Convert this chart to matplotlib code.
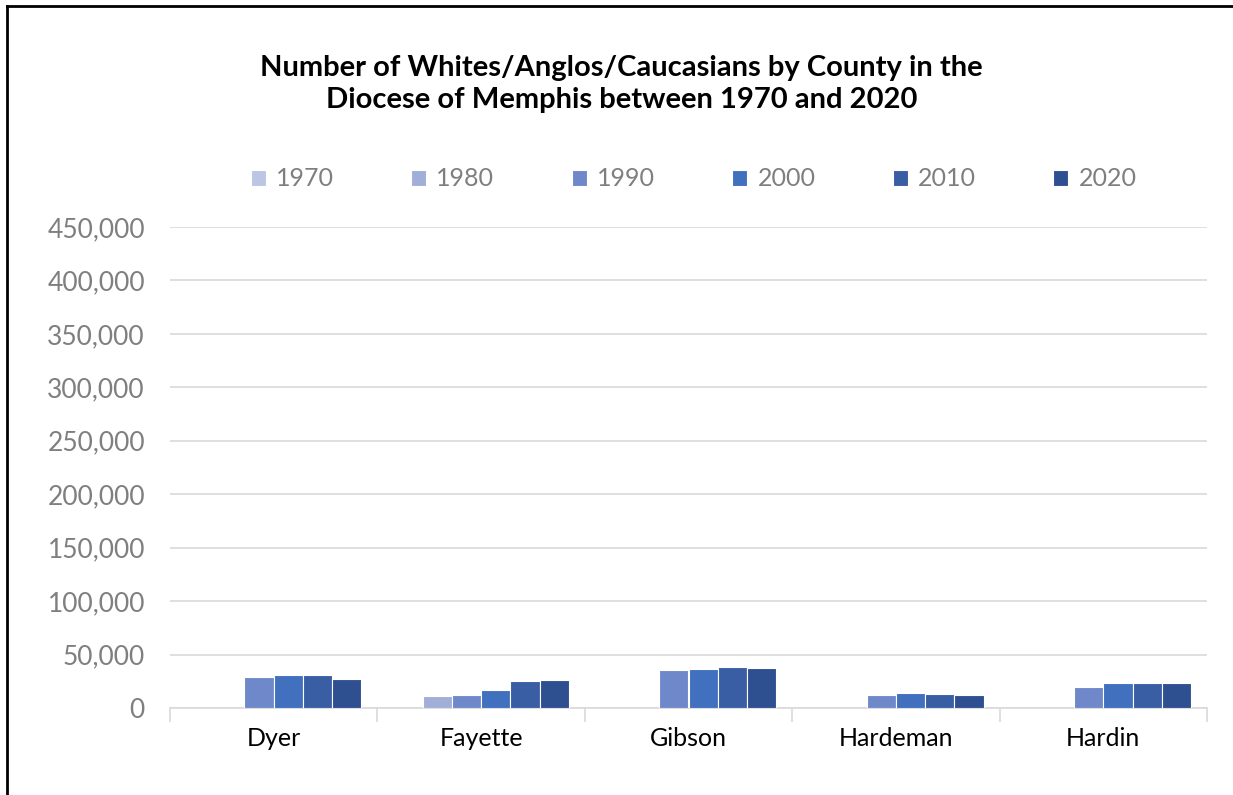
import numpy as np
import matplotlib.pyplot as plt
from matplotlib.lines import Line2D

# Datos (nan = sin barra)
condados = ['Dyer', 'Fayette', 'Gibson', 'Hardeman', 'Hardin']
anios = ['1970', '1980', '1990', '2000', '2010', '2020']
v1970 = [np.nan, np.nan, np.nan, np.nan, np.nan]
v1980 = [np.nan, 10800, np.nan, np.nan, np.nan]
v1990 = [29400, 12400, 35800, 12400, 20100]
v2000 = [31000, 16500, 36700, 14300, 23000]
v2010 = [30700, 25200, 38000, 13400, 23000]
v2020 = [27400, 26500, 37000, 12000, 23100]
series = [v1970, v1980, v1990, v2000, v2010, v2020]
colores = ['#BCC6E4', '#A0AED8', '#6F88CA', '#4170BE', '#3A5EA4', '#2F5090']

plt.rcParams['font.family'] = ['Lato', 'DejaVu Sans']

fig = plt.figure(figsize=(12.33, 7.95), dpi=100)
ax = fig.add_axes([170 / 1233, 87 / 795, 1037 / 1233, 481 / 795])

x = np.arange(len(condados))
ancho = 0.141
for i, (serie, color, anio) in enumerate(zip(series, colores, anios)):
    ax.bar(x + (i - 2.5) * ancho, serie, ancho, color=color, edgecolor='white',
           linewidth=0.8, label=anio, zorder=3)

ax.set_xlim(-0.5, len(condados) - 0.5)
ax.set_ylim(0, 450000)
ax.set_yticks(np.arange(0, 450001, 50000))
ax.set_yticklabels([f'{v:,}' for v in range(0, 450001, 50000)])
ax.grid(axis='y', color='#D9D9D9', linewidth=1.2, zorder=0)

ax.set_xticks(x)
ax.set_xticklabels(condados)
ax.set_xticks(np.arange(-0.5, len(condados), 1), minor=True)
ax.tick_params(axis='x', which='major', length=0, pad=14, labelsize=18, labelcolor='black')
ax.tick_params(axis='x', which='minor', length=10, color='#D9D9D9', width=1.2)
ax.tick_params(axis='y', length=0, pad=18, labelsize=19, labelcolor='#7F7F7F')

for lado in ['top', 'right', 'left']:
    ax.spines[lado].set_visible(False)
ax.spines['bottom'].set_color('#D9D9D9')
ax.spines['bottom'].set_linewidth(1.2)

fig.text(0.504, 0.894, 'Number of Whites/Anglos/Caucasians by County in the\nDiocese of Memphis between 1970 and 2020',
         ha='center', va='center', fontsize=21, fontweight='bold', linespacing=1.3)

ax.legend(loc='center', bbox_to_anchor=(0.505, 1.1), ncol=6, frameon=False,
          fontsize=18, labelcolor='#7F7F7F', handlelength=0.6, handleheight=0.6,
          handletextpad=0.4, columnspacing=3.1)

# marco del gráfico
fig.add_artist(Line2D([7 / 1233, 7 / 1233], [0, 1 - 6 / 795], color='black', linewidth=2))
fig.add_artist(Line2D([7 / 1233, 1], [1 - 6 / 795, 1 - 6 / 795], color='black', linewidth=2))

plt.savefig('out.png', dpi=100)
